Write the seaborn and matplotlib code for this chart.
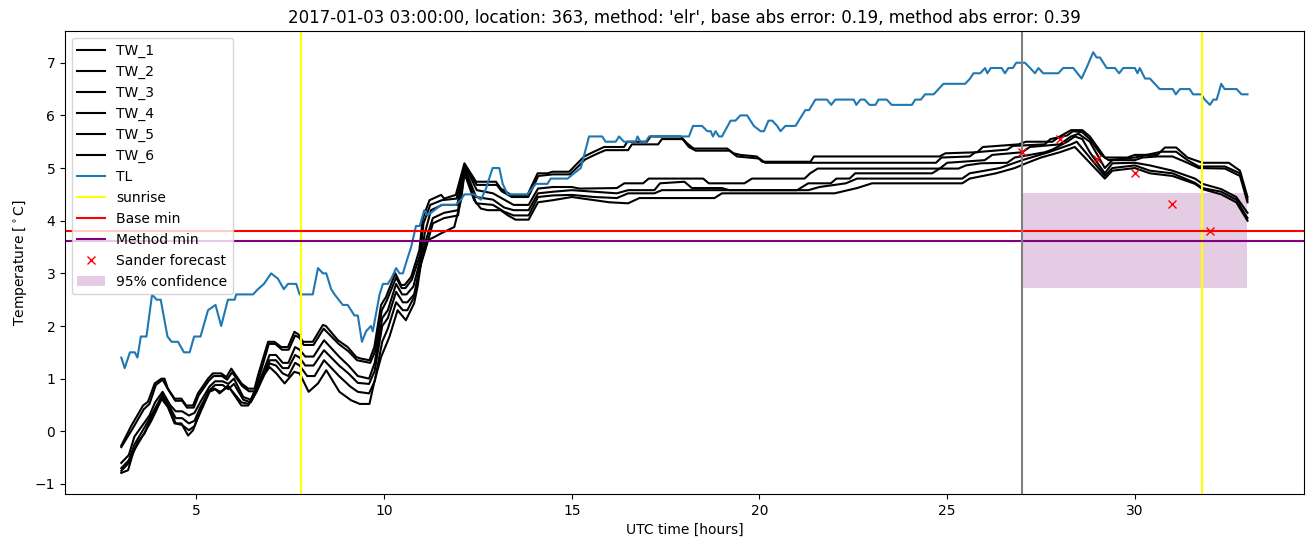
import matplotlib
matplotlib.use("Agg")
import matplotlib.pyplot as plt
import seaborn as sns
import pandas as pd

# ---------------- data ----------------
TL = [(3.0,1.4),(3.09,1.2),(3.23,1.5),(3.36,1.5),(3.43,1.4),(3.52,1.8),(3.67,1.8),(3.82,2.6),(3.94,2.5),(4.05,2.5),
      (4.23,1.8),(4.34,1.7),(4.51,1.7),(4.67,1.5),(4.82,1.5),(4.94,1.8),(5.11,1.8),(5.31,2.3),(5.51,2.4),(5.66,2.0),
      (5.84,2.5),(6.02,2.5),(6.06,2.6),(6.51,2.6),(6.64,2.7),(6.8,2.8),(6.99,3.0),(7.17,2.9),(7.33,2.7),(7.44,2.8),
      (7.66,2.8),(7.75,2.6),(8.10,2.6),(8.24,3.1),(8.37,3.0),(8.46,3.0),(8.59,2.7),(8.68,2.6),(8.90,2.4),(9.03,2.4),
      (9.21,2.2),(9.30,2.2),(9.41,1.7),(9.52,1.9),(9.65,2.0),(9.70,1.9),(9.88,2.6),(9.97,2.8),(10.1,2.8),(10.19,2.9),
      (10.32,3.1),(10.41,3.0),(10.50,3.0),(10.63,3.3),(10.72,3.5),(10.85,3.9),(10.95,3.9),(11.07,4.2),(11.16,4.1),
      (11.34,4.2),(11.52,4.3),(11.91,4.3),(12.05,4.4),(12.14,4.5),(12.40,4.5),(12.58,4.4),(12.71,4.6),(12.89,5.0),
      (13.07,5.0),(13.16,4.7),(13.29,4.5),(13.82,4.5),(14.04,4.7),(14.35,4.7),(14.44,4.8),(14.89,4.8),(15.06,4.9),
      (15.24,5.0),(15.46,5.6),(15.81,5.6),(15.90,5.5),(16.17,5.5),(16.26,5.6),(16.39,5.5),(16.70,5.5),(16.75,5.6),
      (16.83,5.5),(16.97,5.5),(17.06,5.6),(18.12,5.6),(18.23,5.8),(18.47,5.8),(18.61,5.7),(18.70,5.7),(18.76,5.6),
      (18.83,5.7),(18.92,5.6),(19.0,5.6),(19.23,5.9),(19.36,5.9),(19.49,6.0),(19.67,6.0),(19.85,5.8),(20.03,5.7),
      (20.12,5.7),(20.24,5.9),(20.34,5.9),(20.47,5.8),(20.56,5.7),(20.69,5.8),(20.96,5.8),(21.22,6.1),(21.32,6.1),
      (21.49,6.3),(21.80,6.3),(21.91,6.2),(22.02,6.3),(22.51,6.3),(22.58,6.2),(22.69,6.3),(22.80,6.3),(22.93,6.2),
      (23.09,6.2),(23.17,6.3),(23.39,6.3),(23.52,6.2),(24.06,6.2),(24.15,6.3),(24.30,6.3),(24.41,6.4),(24.64,6.4),
      (24.77,6.5),(24.90,6.6),(25.48,6.6),(25.61,6.7),(25.70,6.8),(25.88,6.8),(26.01,6.9),(26.07,6.8),(26.16,6.9),
      (26.45,6.9),(26.54,6.8),(26.63,6.9),(26.75,6.9),(26.84,7.0),(27.07,7.0),(27.21,6.9),(27.34,6.8),(27.43,6.9),
      (27.56,6.8),(27.96,6.8),(28.09,6.9),(28.36,6.9),(28.58,6.7),(28.71,6.9),(28.89,7.2),(28.98,7.1),(29.07,7.1),
      (29.25,6.9),(29.47,6.9),(29.58,6.8),(29.69,6.9),(30.0,6.9),(30.07,6.8),(30.13,6.9),(30.27,6.7),(30.40,6.7),
      (30.53,6.6),(30.66,6.5),(31.01,6.5),(31.09,6.4),(31.2,6.5),(31.46,6.5),(31.55,6.4),(31.77,6.4),(31.86,6.3),
      (32.0,6.2),(32.09,6.3),(32.18,6.3),(32.3,6.6),(32.39,6.5),(32.71,6.5),(32.84,6.4),(33.0,6.4)]

TW_1 = [(3.0,-0.27),(3.27,0.11),(3.58,0.49),(3.71,0.56),(3.89,0.91),(4.07,1.0),(4.15,1.0),(4.24,0.81),(4.42,0.62),
        (4.6,0.62),(4.73,0.49),(4.91,0.49),(5.04,0.72),(5.31,1.0),(5.44,1.1),(5.66,1.1),(5.8,1.03),(5.93,1.19),
        (6.2,0.91),(6.38,0.81),(6.55,0.81),(6.64,1.06),(6.91,1.70),(7.08,1.70),(7.26,1.60),(7.44,1.60),(7.61,1.89),
        (7.72,1.84),(7.84,1.70),(8.10,1.70),(8.37,2.02),(8.45,2.0),(8.77,1.73),(9.03,1.60),(9.26,1.41),(9.39,1.38),
        (9.61,1.35),(9.74,1.60),(9.92,2.40),(10.05,2.55),(10.3,3.0),(10.45,2.78),(10.55,2.78),(10.72,2.93),
        (10.94,3.44),(11.03,4.04),(11.21,4.39),(11.52,4.49),(11.6,4.42),(11.91,4.49),(12.14,5.09),(12.45,4.74),
        (12.98,4.74),(13.11,4.61),(13.38,4.49),(13.82,4.49),(14.09,4.90),(14.35,4.90),(14.49,4.93),(14.93,4.93),
        (15.15,5.09),(15.33,5.22),(15.5,5.28),(15.68,5.34),(15.86,5.40),(16.39,5.40),(16.48,5.50),(17.0,5.50),
        (17.1,5.60),(17.9,5.60),(18.07,5.47),(18.25,5.37),(19.14,5.37),(19.31,5.28),(19.49,5.25),(19.93,5.22),
        (20.07,5.12),(21.36,5.12),(21.45,5.22),(24.8,5.22),(24.95,5.28),(25.8,5.3),(25.95,5.4),(26.9,5.45),
        (27.1,5.5),(27.8,5.5),(28.0,5.6),(28.3,5.72),(28.6,5.72),(28.8,5.6),(29.0,5.4),(29.2,5.2),(29.8,5.2),
        (30.0,5.25),(30.6,5.25),(30.8,5.39),(31.1,5.39),(31.4,5.2),(31.8,5.1),(32.5,5.1),(32.8,4.95),(33.0,4.45)]

TW_2 = [(3.0,-0.30),(3.3,0.05),(3.6,0.42),(3.75,0.52),(3.92,0.88),(4.1,0.98),(4.26,0.78),(4.44,0.58),(4.62,0.58),
        (4.75,0.45),(4.93,0.45),(5.06,0.68),(5.33,0.96),(5.46,1.05),(5.68,1.05),(5.82,0.98),(5.95,1.12),(6.22,0.86),
        (6.40,0.76),(6.57,0.76),(6.66,1.0),(6.93,1.66),(7.1,1.66),(7.28,1.55),(7.46,1.55),(7.63,1.82),(7.74,1.78),
        (7.86,1.64),(8.12,1.64),(8.39,1.95),(8.79,1.66),(9.05,1.52),(9.28,1.35),(9.63,1.30),(9.76,1.52),(9.94,2.30),
        (10.07,2.48),(10.32,2.92),(10.47,2.72),(10.57,2.72),(10.74,2.88),(10.96,3.35),(11.05,3.95),(11.23,4.30),
        (11.54,4.39),(11.93,4.42),(12.15,5.05),(12.47,4.68),(13.0,4.68),(13.13,4.56),(13.4,4.45),(13.84,4.45),
        (14.11,4.85),(14.5,4.88),(14.95,4.88),(15.17,5.03),(15.35,5.16),(15.52,5.22),(15.7,5.28),(15.9,5.34),
        (16.5,5.34),(16.6,5.45),(17.3,5.45),(17.4,5.55),(17.95,5.55),(18.12,5.40),(18.3,5.33),(19.2,5.33),
        (19.4,5.22),(20.0,5.18),(20.15,5.10),(24.7,5.10),(24.85,5.2),(25.6,5.22),(25.75,5.3),(26.6,5.35),
        (26.75,5.42),(27.6,5.45),(27.75,5.55),(28.2,5.62),(28.35,5.7),(28.6,5.68),(28.8,5.55),(29.1,5.25),
        (29.3,5.15),(30.0,5.2),(30.7,5.31),(31.1,5.31),(31.4,5.15),(31.7,5.03),(32.4,5.03),(32.8,4.9),(33.0,4.4)]

TW_3 = [(3.0,-0.60),(3.2,-0.45),(3.35,-0.1),(3.6,0.15),(3.75,0.3),(3.9,0.55),(4.1,0.75),(4.3,0.5),(4.45,0.38),
        (4.62,0.38),(4.8,0.30),(4.95,0.35),(5.1,0.55),(5.35,0.85),(5.5,0.95),(5.7,0.95),(5.85,0.9),(6.0,1.0),
        (6.25,0.65),(6.45,0.6),(6.6,0.8),(6.95,1.45),(7.12,1.45),(7.3,1.3),(7.45,1.3),(7.63,1.6),(7.75,1.55),
        (7.9,1.42),(8.12,1.42),(8.4,1.73),(8.8,1.42),(9.05,1.25),(9.3,1.05),(9.6,1.0),(9.75,1.3),(9.95,2.15),
        (10.1,2.3),(10.32,2.8),(10.48,2.6),(10.6,2.6),(10.78,2.75),(10.98,3.3),(11.08,3.75),(11.25,4.2),
        (11.55,4.3),(11.95,4.3),(12.15,5.05),(12.47,4.58),(12.9,4.52),(13.2,4.4),(13.45,4.3),(13.85,4.3),
        (14.1,4.61),(14.5,4.64),(15.0,4.64),(15.2,4.61),(16.2,4.62),(16.4,4.71),(16.9,4.71),(17.05,4.80),
        (18.5,4.80),(18.65,4.71),(19.6,4.71),(19.8,4.80),(21.2,4.80),(21.35,4.90),(21.55,4.99),(24.8,4.99),
        (25.0,5.1),(26.0,5.15),(26.2,5.25),(27.0,5.3),(27.2,5.4),(28.0,5.45),(28.3,5.6),(28.5,5.65),(28.8,5.5),
        (29.2,5.0),(29.4,5.15),(30.0,5.15),(30.2,5.2),(30.6,5.22),(31.0,5.22),(31.4,5.1),(31.7,5.0),(32.4,4.99),
        (32.8,4.85),(33.0,4.35)]

TW_4 = [(3.0,-0.70),(3.2,-0.55),(3.35,-0.25),(3.6,0.05),(3.8,0.3),(4.1,0.70),(4.3,0.45),(4.45,0.25),(4.62,0.25),
        (4.8,0.15),(4.95,0.2),(5.1,0.45),(5.35,0.78),(5.5,0.88),(5.7,0.88),(5.85,0.8),(6.0,0.9),(6.25,0.6),
        (6.45,0.55),(6.6,0.75),(6.95,1.35),(7.12,1.35),(7.3,1.2),(7.45,1.2),(7.63,1.45),(7.75,1.4),(7.9,1.25),
        (8.12,1.25),(8.4,1.54),(8.8,1.25),(9.05,1.1),(9.3,0.92),(9.6,0.9),(9.75,1.15),(9.95,2.0),(10.1,2.15),
        (10.32,2.65),(10.5,2.45),(10.62,2.45),(10.8,2.6),(11.0,3.25),(11.1,3.6),(11.3,4.05),(11.6,4.15),
        (11.97,4.2),(12.15,5.0),(12.45,4.45),(12.9,4.4),(13.2,4.25),(13.45,4.2),(13.85,4.2),(14.1,4.52),
        (14.5,4.55),(15.0,4.58),(15.6,4.55),(16.2,4.52),(16.5,4.58),(17.2,4.58),(17.35,4.71),(18.0,4.74),
        (18.2,4.62),(19.0,4.62),(19.2,4.58),(21.0,4.58),(21.3,4.71),(21.9,4.71),(22.05,4.80),(22.4,4.80),
        (22.55,4.90),(24.6,4.90),(24.8,4.99),(25.3,4.99),(25.5,5.05),(25.9,5.09),(26.6,5.1),(26.8,5.2),
        (27.2,5.25),(27.6,5.3),(27.8,5.35),(28.2,5.5),(28.4,5.6),(28.6,5.55),(28.8,5.3),(29.2,4.9),(29.4,5.09),
        (30.0,5.1),(30.4,5.05),(31.0,4.95),(31.6,4.8),(31.8,4.7),(32.3,4.6),(32.7,4.45),(33.0,4.15)]

TW_5 = [(3.0,-0.75),(3.2,-0.6),(3.35,-0.35),(3.6,-0.05),(3.8,0.2),(4.1,0.65),(4.3,0.4),(4.45,0.15),(4.62,0.12),
        (4.8,0.02),(4.95,0.1),(5.1,0.35),(5.35,0.75),(5.5,0.8),(5.65,0.75),(5.85,0.85),(6.2,0.55),(6.4,0.52),
        (6.6,0.75),(6.95,1.29),(7.12,1.25),(7.3,1.1),(7.45,1.05),(7.63,1.3),(7.75,1.25),(7.95,1.05),(8.15,1.05),
        (8.4,1.35),(8.8,1.05),(9.1,0.85),(9.3,0.75),(9.6,0.72),(9.75,0.95),(9.95,1.7),(10.1,1.95),(10.32,2.45),
        (10.5,2.3),(10.62,2.3),(10.8,2.55),(10.95,3.1),(11.1,3.45),(11.3,3.95),(11.6,4.05),(11.97,4.1),
        (12.15,4.95),(12.45,4.33),(12.9,4.3),(13.2,4.17),(13.45,4.1),(13.85,4.1),(14.1,4.45),(14.5,4.48),
        (15.0,4.49),(15.6,4.45),(16.2,4.43),(16.5,4.52),(17.2,4.52),(17.4,4.58),(21.3,4.58),(21.6,4.64),
        (22.3,4.71),(22.6,4.80),(25.4,4.80),(25.6,4.9),(26.4,5.0),(27.0,5.15),(27.7,5.3),(28.3,5.45),
        (28.45,5.5),(28.8,5.2),(29.2,4.85),(29.4,5.0),(30.0,5.05),(30.4,4.95),(31.0,4.9),(31.6,4.72),
        (31.8,4.62),(32.3,4.55),(32.7,4.4),(33.0,4.05)]

TW_6 = [(3.0,-0.79),(3.18,-0.74),(3.31,-0.42),(3.44,-0.20),(3.62,-0.04),(3.80,0.27),(4.07,0.62),(4.24,0.46),
        (4.42,0.15),(4.6,0.15),(4.78,-0.08),(4.91,0.02),(5.04,0.27),(5.31,0.75),(5.49,0.81),(5.62,0.72),
        (5.84,0.87),(6.20,0.49),(6.38,0.49),(6.64,0.91),(6.95,1.22),(7.13,1.10),(7.35,0.91),(7.61,1.13),
        (7.75,1.10),(7.99,0.75),(8.24,0.91),(8.46,1.16),(8.81,0.75),(9.12,0.59),(9.35,0.52),(9.61,0.52),
        (9.74,0.94),(9.92,1.41),(10.14,1.79),(10.36,2.30),(10.58,2.11),(10.80,2.43),(10.89,2.74),(10.99,3.22),
        (11.16,3.63),(11.34,3.69),(11.52,3.76),(11.87,3.88),(12.05,4.39),(12.14,4.90),(12.40,4.39),(12.58,4.23),
        (12.76,4.20),(13.1,4.2),(13.3,4.1),(13.5,4.02),(13.85,4.02),(14.1,4.35),(14.5,4.39),(15.0,4.45),
        (15.5,4.4),(16.0,4.35),(16.5,4.33),(16.8,4.43),(18.8,4.43),(19.0,4.52),(22.0,4.52),(22.6,4.62),
        (23.0,4.71),(25.4,4.71),(25.6,4.8),(26.3,4.9),(26.8,5.0),(27.1,5.09),(27.5,5.2),(28.0,5.3),(28.4,5.4),
        (28.8,5.1),(29.2,4.8),(29.4,4.95),(30.0,5.0),(30.4,4.9),(31.0,4.85),(31.6,4.7),(31.8,4.6),(32.3,4.5),
        (32.7,4.35),(33.0,4.0)]

tw_series = {"TW_1": TW_1, "TW_2": TW_2, "TW_3": TW_3, "TW_4": TW_4, "TW_5": TW_5, "TW_6": TW_6}

sunrise_hours = [7.78, 31.78]
forecast_start = 27.0
base_min = 3.80
method_min = 3.61
sander_hours = [27, 28, 29, 30, 31, 32]
sander_values = [5.30, 5.55, 5.18, 4.90, 4.31, 3.80]
conf_hours = [27.0, 33.0]
conf_lower = [2.72, 2.72]
conf_upper = [4.52, 4.52]

title = ("2017-01-03 03:00:00, location: 363, method: 'elr', "
         "base abs error: 0.19, method abs error: 0.39")

# ---------------- plot ----------------
fig = plt.figure(figsize=(13.13, 5.47), dpi=100)
ax = fig.add_axes([0.0495, 0.097, 0.9435, 0.846])

for name, pts in tw_series.items():
    df = pd.DataFrame(pts, columns=["t", "v"])
    sns.lineplot(data=df, x="t", y="v", color="black", label=name, ax=ax,
                 estimator=None, sort=False, linewidth=1.5)

df_tl = pd.DataFrame(TL, columns=["t", "v"])
sns.lineplot(data=df_tl, x="t", y="v", color="#1f77b4", label="TL", ax=ax,
             estimator=None, sort=False, linewidth=1.5)

for i, s in enumerate(sunrise_hours):
    ax.axvline(s, color="yellow", label="sunrise" if i == 0 else None)
ax.axhline(base_min, color="red", label="Base min")
ax.axhline(method_min, color="purple", label="Method min")
ax.axvline(forecast_start, color="gray")
ax.plot(sander_hours, sander_values, "x", color="red", linestyle="none",
        label="Sander forecast")
ax.fill_between(conf_hours, conf_lower, conf_upper, color="purple", alpha=0.2,
                linewidth=0, label="95% confidence")

ax.set_title(title, fontsize=12)
ax.set_xlabel("UTC time [hours]")
ax.set_ylabel(r"Temperature [$^\circ$C]")
ax.legend(loc="upper left")

fig.savefig("out.png", dpi=100)
